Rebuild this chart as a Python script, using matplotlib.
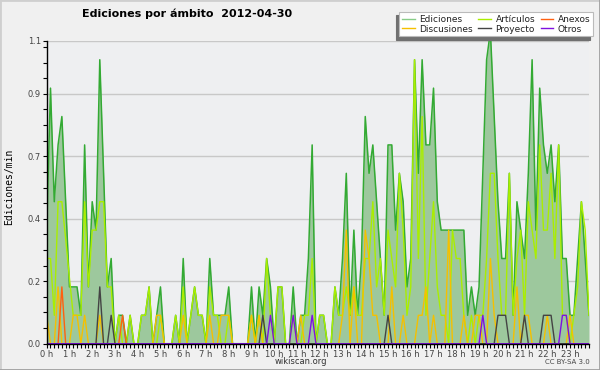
import matplotlib
matplotlib.use("Agg")
import matplotlib.pyplot as plt
from matplotlib.ticker import MultipleLocator
from matplotlib.lines import Line2D
import numpy as np

# edits per minute, one value every 10 minutes (0h00 ... 23h50)
ediciones = [0.4, 0.9, 0.5, 0.7, 0.8, 0.5, 0.2, 0.2, 0.2, 0.1, 0.7, 0.2,
             0.5, 0.4, 1.0, 0.6, 0.2, 0.3, 0.0, 0.1, 0.1, 0.0, 0.1, 0.0,
             0.0, 0.1, 0.1, 0.2, 0.0, 0.1, 0.2, 0.0, 0.0, 0.0, 0.1, 0.0,
             0.3, 0.0, 0.1, 0.2, 0.1, 0.1, 0.0, 0.3, 0.1, 0.1, 0.1, 0.1,
             0.2, 0.0, 0.0, 0.0, 0.0, 0.0, 0.2, 0.0, 0.2, 0.1, 0.3, 0.2,
             0.0, 0.2, 0.2, 0.0, 0.0, 0.2, 0.0, 0.1, 0.1, 0.3, 0.7, 0.0,
             0.1, 0.1, 0.0, 0.0, 0.2, 0.1, 0.3, 0.6, 0.1, 0.4, 0.1, 0.3,
             0.8, 0.6, 0.7, 0.5, 0.3, 0.1, 0.7, 0.7, 0.4, 0.6, 0.5, 0.2,
             0.3, 1.0, 0.6, 1.0, 0.7, 0.7, 0.9, 0.5, 0.4, 0.4, 0.4, 0.4,
             0.4, 0.4, 0.4, 0.1, 0.2, 0.1, 0.2, 0.6, 1.0, 1.1, 0.8, 0.5,
             0.3, 0.3, 0.6, 0.1, 0.5, 0.4, 0.3, 0.6, 1.0, 0.4, 0.9, 0.7,
             0.6, 0.7, 0.5, 0.7, 0.3, 0.3, 0.1, 0.1, 0.3, 0.5, 0.3, 0.1]
articulos = [0.3, 0.3, 0.1, 0.5, 0.5, 0.37, 0.23, 0.1, 0.1, 0.1, 0.5, 0.2,
             0.4, 0.4, 0.5, 0.5, 0.2, 0.2, 0.0, 0.1, 0.0, 0.0, 0.1, 0.0,
             0.0, 0.1, 0.1, 0.2, 0.0, 0.0, 0.1, 0.0, 0.0, 0.0, 0.1, 0.0,
             0.2, 0.0, 0.1, 0.2, 0.1, 0.1, 0.0, 0.2, 0.1, 0.1, 0.0, 0.0,
             0.1, 0.0, 0.0, 0.0, 0.0, 0.0, 0.1, 0.0, 0.1, 0.0, 0.3, 0.1,
             0.0, 0.2, 0.2, 0.0, 0.0, 0.1, 0.0, 0.0, 0.1, 0.1, 0.3, 0.0,
             0.1, 0.1, 0.0, 0.0, 0.2, 0.1, 0.1, 0.2, 0.1, 0.2, 0.1, 0.1,
             0.3, 0.3, 0.5, 0.2, 0.3, 0.1, 0.4, 0.3, 0.2, 0.6, 0.4, 0.1,
             0.2, 1.0, 0.3, 0.8, 0.1, 0.3, 0.5, 0.2, 0.1, 0.1, 0.0, 0.4,
             0.3, 0.3, 0.1, 0.0, 0.1, 0.0, 0.1, 0.1, 0.3, 0.6, 0.6, 0.3,
             0.1, 0.1, 0.6, 0.1, 0.3, 0.4, 0.1, 0.5, 0.4, 0.3, 0.7, 0.4,
             0.4, 0.6, 0.3, 0.7, 0.1, 0.1, 0.0, 0.1, 0.2, 0.5, 0.4, 0.1]
discusiones = [0.1, 0, 0, 0.2, 0, 0, 0, 0.1, 0.1, 0, 0.1, 0,
               0, 0, 0.1, 0, 0, 0, 0, 0, 0, 0, 0, 0,
               0, 0, 0, 0, 0, 0.1, 0.1, 0, 0, 0, 0, 0,
               0.1, 0, 0, 0, 0, 0, 0, 0.1, 0, 0, 0.1, 0.1,
               0.1, 0, 0, 0, 0, 0, 0.1, 0, 0.1, 0, 0, 0,
               0, 0, 0, 0, 0, 0, 0, 0.1, 0, 0, 0, 0,
               0, 0, 0, 0, 0, 0, 0.1, 0.4, 0, 0.2, 0, 0,
               0.4, 0.3, 0.1, 0.1, 0, 0, 0, 0.2, 0, 0, 0.1, 0,
               0, 0, 0.1, 0.1, 0.2, 0, 0.1, 0, 0, 0, 0.4, 0,
               0, 0, 0.1, 0, 0, 0.1, 0.1, 0, 0, 0.3, 0.1, 0,
               0, 0, 0, 0, 0.2, 0, 0.1, 0.1, 0, 0, 0, 0,
               0.1, 0, 0, 0, 0, 0, 0.1, 0, 0, 0, 0, 0]
anexos = [0, 0, 0, 0, 0.2, 0, 0, 0, 0, 0, 0, 0,
          0, 0, 0, 0, 0, 0, 0, 0, 0.1, 0, 0, 0,
          0, 0, 0, 0, 0, 0, 0, 0, 0, 0, 0, 0,
          0, 0, 0, 0, 0, 0, 0, 0, 0, 0, 0, 0,
          0, 0, 0, 0, 0, 0, 0, 0, 0, 0, 0, 0,
          0, 0, 0, 0, 0, 0, 0, 0, 0, 0, 0, 0,
          0, 0, 0, 0, 0, 0, 0, 0, 0, 0, 0, 0,
          0, 0, 0, 0, 0, 0, 0, 0, 0, 0, 0, 0,
          0, 0, 0, 0, 0, 0, 0, 0, 0, 0, 0, 0,
          0, 0, 0, 0, 0, 0, 0, 0, 0, 0, 0, 0,
          0, 0, 0, 0, 0, 0, 0, 0, 0, 0, 0, 0,
          0, 0, 0, 0, 0, 0, 0, 0, 0, 0, 0, 0]
proyecto = [0, 0, 0, 0, 0, 0, 0, 0, 0, 0, 0, 0,
            0, 0, 0.2, 0, 0, 0.1, 0, 0, 0, 0, 0, 0,
            0, 0, 0, 0, 0, 0, 0, 0, 0, 0, 0, 0,
            0, 0, 0, 0, 0, 0, 0, 0, 0, 0, 0, 0,
            0, 0, 0, 0, 0, 0, 0, 0, 0, 0.1, 0, 0,
            0, 0, 0, 0, 0, 0, 0, 0, 0, 0, 0, 0,
            0, 0, 0, 0, 0, 0, 0, 0, 0, 0, 0, 0,
            0, 0, 0, 0, 0, 0, 0.1, 0, 0, 0, 0, 0,
            0, 0, 0, 0, 0, 0, 0, 0, 0, 0, 0, 0,
            0, 0, 0, 0, 0, 0, 0, 0, 0, 0, 0, 0.1,
            0.1, 0.1, 0, 0, 0, 0, 0.1, 0, 0, 0, 0, 0.1,
            0.1, 0.1, 0, 0, 0, 0, 0, 0, 0, 0, 0, 0]
otros = [0, 0, 0, 0, 0, 0, 0, 0, 0, 0, 0, 0,
         0, 0, 0, 0, 0, 0, 0, 0, 0, 0, 0, 0,
         0, 0, 0, 0, 0, 0, 0, 0, 0, 0, 0, 0,
         0, 0, 0, 0, 0, 0, 0, 0, 0, 0, 0, 0,
         0, 0, 0, 0, 0, 0, 0, 0, 0, 0, 0, 0.1,
         0, 0, 0, 0, 0, 0.1, 0, 0, 0, 0, 0.1, 0,
         0, 0, 0, 0, 0, 0, 0, 0, 0, 0, 0, 0,
         0, 0, 0, 0, 0, 0, 0, 0, 0, 0, 0, 0,
         0, 0, 0, 0, 0, 0, 0, 0, 0, 0, 0, 0,
         0, 0, 0, 0, 0, 0, 0, 0.1, 0, 0, 0, 0,
         0, 0, 0, 0, 0, 0, 0, 0, 0, 0, 0, 0,
         0, 0, 0, 0, 0.1, 0.1, 0, 0, 0, 0, 0, 0]

hour_labels = ["%d h" % h for h in range(24)]
ytick_vals = [0.0, 0.22, 0.44, 0.66, 0.88, 1.067]
ytick_labels = ["0.0", "0.2", "0.4", "0.7", "0.9", "1.1"]

t = np.arange(len(ediciones)) / 6.0   # hours

W, H = 600, 370
fig = plt.figure(figsize=(6, 3.7), dpi=100, facecolor="#f0f0f0")
ax = fig.add_axes([46.7 / W, 26.3 / H, 542.3 / W, 303 / H])
ax.set_facecolor("#eeeff1")

# total edits as filled area, categories as lines
ax.fill_between(t, ediciones, color="#9dc89d", lw=0, zorder=2)
ax.plot(t, ediciones, color="#33aa33", lw=1.1, zorder=3)
l_art, = ax.plot(t, articulos, color="#aaee00", lw=1.0, zorder=4)
l_dis, = ax.plot(t, discusiones, color="#f5c000", lw=1.0, zorder=5)
l_anx, = ax.plot(t, anexos, color="#ff6010", lw=1.0, zorder=5)
l_pro, = ax.plot(t, proyecto, color="#444444", lw=1.0, zorder=6)
l_otr, = ax.plot(t, otros, color="#7f10e0", lw=1.0, zorder=6)

ax.set_xlim(0, t[-1])
ax.set_ylim(0, ytick_vals[-1])

ax.set_xticks(range(24), hour_labels)
ax.xaxis.set_minor_locator(MultipleLocator(1 / 6.0))
ax.set_yticks(ytick_vals, ytick_labels)
ax.yaxis.set_minor_locator(MultipleLocator(0.055))
ax.tick_params(which="both", direction="out", length=2.7, width=0.8,
               labelsize=6, labelcolor="#444444", pad=1.5)
ax.grid(axis="y", color="#c8c8c8", lw=1, zorder=1)
ax.set_axisbelow(True)
for s in ["top", "right"]:
    ax.spines[s].set_visible(False)
for s in ["left", "bottom"]:
    ax.spines[s].set_linewidth(1)
    ax.spines[s].set_zorder(7)

# legend (column-major order for ncol=3)
h_edi = Line2D([], [], color="#88cc88", lw=1)
handles = [h_edi, l_dis, l_art, l_pro, l_anx, l_otr]
labels = ["Ediciones", "Discusiones", "Artículos", "Proyecto", "Anexos", "Otros"]
leg = fig.legend(handles, labels, ncol=3, loc="upper right",
                 bbox_to_anchor=(593 / W, 1 - 12 / H), frameon=True,
                 fancybox=False,
                 shadow={"ox": -2.5, "oy": -2.5, "facecolor": "#707070",
                         "edgecolor": "#707070", "alpha": 1},
                 fontsize=6.5, handlelength=1.4, handletextpad=0.5,
                 columnspacing=0.6, labelspacing=0.1, borderpad=0.3,
                 borderaxespad=0)
leg.get_frame().set_edgecolor("#bbbbbb")
leg.get_frame().set_linewidth(0.8)
for txt in leg.get_texts():
    txt.set_color("#222222")

fig.text(187.5 / W, 1 - 14 / H, "Ediciones por ámbito  2012-04-30",
         ha="center", va="center", fontsize=8, fontweight="bold")
fig.text(9.5 / W, 1 - 187 / H, "Ediciones/min", rotation=90,
         family="DejaVu Sans Mono", fontsize=7, ha="center", va="center")
fig.text(301 / W, 1 - 361.5 / H, "wikiscan.org", ha="center", va="center",
         fontsize=6, color="#333333")
fig.text(590 / W, 1 - 362.5 / H, "CC BY-SA 3.0", ha="right", va="center",
         fontsize=5, color="#444444")

# frame around the image
fig.add_artist(Line2D([0, 0, 1], [0, 1, 1], transform=fig.transFigure,
                      color="#cfcfcf", lw=2))
fig.add_artist(Line2D([0, 1, 1], [0, 0, 1], transform=fig.transFigure,
                      color="#9f9f9f", lw=2))

fig.savefig("out.png", dpi=100, facecolor=fig.get_facecolor())
